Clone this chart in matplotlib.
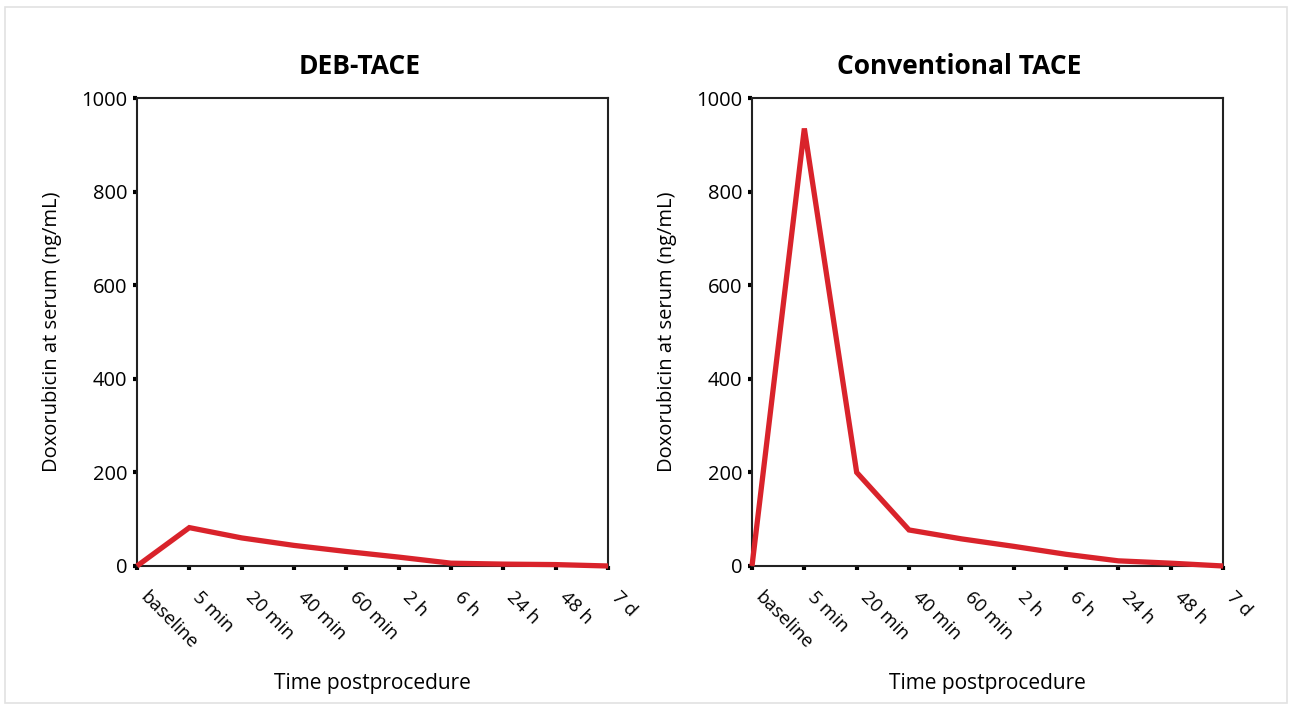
import matplotlib
matplotlib.use("Agg")
import matplotlib.pyplot as plt
from matplotlib.patches import Rectangle

# time points (categorical x axis)
time_labels = ["baseline", "5 min", "20 min", "40 min", "60 min",
               "2 h", "6 h", "24 h", "48 h", "7 d"]

# serum doxorubicin (ng/mL)
deb_tace = [0, 82, 60, 44, 31, 19, 6, 4, 3, 0]
conv_tace = [0, 935, 200, 77, 58, 42, 25, 11, 6, 0]

titles = ["DEB-TACE", "Conventional TACE"]
title_x = [0.473, 0.44]
series = [deb_tace, conv_tace]
y_ticks = [0, 200, 400, 600, 800, 1000]

plt.rcParams['font.family'] = ['Open Sans', 'Noto Sans', 'DejaVu Sans']

fig = plt.figure(figsize=(12.92, 7.09), dpi=100)
fig.patches.append(Rectangle((0.004, 0.008), 0.992, 0.982, transform=fig.transFigure,
                             fill=False, edgecolor="#e2e2e2", linewidth=1.2))

lefts = [137 / 1292, 752 / 1292]
for left, title, tx, vals in zip(lefts, titles, title_x, series):
    ax = fig.add_axes([left, 0.2017, 0.3646, 0.660])
    x = list(range(len(time_labels)))
    ax.plot(x, vals, color="#d9232b", linewidth=3.8, solid_joinstyle="miter",
            solid_capstyle="butt", clip_on=False, zorder=3)
    ax.set_xlim(0, len(time_labels) - 1)
    ax.set_ylim(0, 1000)
    ax.set_yticks(y_ticks)
    ax.set_xticks(x)
    ax.set_xticklabels(time_labels, rotation=-45, ha="left", va="bottom",
                       rotation_mode="anchor")
    ax.tick_params(axis="both", length=3, width=3, color="black", pad=4)
    ax.tick_params(axis="y", labelsize=14.5)
    ax.tick_params(axis="x", labelsize=13.5, pad=22)
    for sp in ax.spines.values():
        sp.set_linewidth(1.5)
        sp.set_color("#222222")
    ax.set_title(title, x=tx, fontsize=19, fontweight="bold", pad=17)
    ax.set_ylabel("Doxorubicin at serum (ng/mL)", fontsize=14.5, labelpad=14)
    ax.set_xlabel("Time postprocedure", fontsize=15, labelpad=15)

fig.savefig("out.png", dpi=100)
